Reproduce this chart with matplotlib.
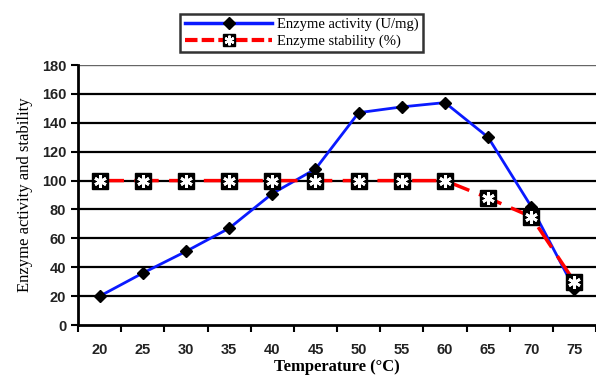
import numpy as np
import matplotlib.pyplot as plt
from matplotlib.lines import Line2D

temps = [20, 25, 30, 35, 40, 45, 50, 55, 60, 65, 70, 75]
activity = [20, 36, 51, 67, 91, 108, 147, 151, 154, 130, 82, 25]
stability = [100, 100, 100, 100, 100, 100, 100, 100, 100, 88, 75, 30]
yticks = [0, 20, 40, 60, 80, 100, 120, 140, 160, 180]

fig = plt.figure(figsize=(5.96, 3.78), dpi=100)
ax = fig.add_axes([0.131, 0.140, 0.869, 0.688])

x = np.arange(len(temps))

for y in yticks[1:]:
    ax.axhline(y, color='black', lw=1.6 if y < 180 else 1.0, zorder=1,
               alpha=1 if y < 180 else 0.6)

ax.plot(x, activity, color='#0a1aff', lw=2, marker='D', ms=6,
        mfc='black', mec='black', zorder=3)
ax.plot(x, stability, color='#ff0000', lw=2.5, dashes=(7, 3), zorder=4)
ax.plot(x, stability, ls='none', marker='s', ms=11, mfc='black',
        mec='black', zorder=5)
ax.plot(x, stability, ls='none', marker=(6, 2, 0), ms=9, mec='white',
        mew=2, zorder=6)

ax.set_xlim(-0.5, 11.27)
ax.set_ylim(0, 180)
ax.set_yticks(yticks)
ax.set_xticks(x)
ax.set_xticklabels([str(t) for t in temps])
ax.set_xticks(np.arange(-0.5, 11.6, 1), minor=True)
ax.tick_params(axis='x', which='major', length=0, pad=13)
ax.tick_params(axis='x', which='minor', length=5, width=1.5)
ax.tick_params(axis='y', length=5, width=1.5)
for lab in ax.get_xticklabels() + ax.get_yticklabels():
    lab.set_fontfamily('Liberation Sans')
    lab.set_fontweight('bold')
    lab.set_fontsize(10.5)
    lab.set_color('#222222')

for s in ['top', 'right']:
    ax.spines[s].set_visible(False)
ax.spines['left'].set_linewidth(2)
ax.spines['bottom'].set_linewidth(2)

ax.set_ylabel('Enzyme activity and stability', family='Liberation Serif',
              fontsize=12, labelpad=6)
ax.set_xlabel('Temperature (\u00b0C)', family='Liberation Serif',
              fontsize=12, fontweight='bold', labelpad=1)

h1 = Line2D([], [], color='#0a1aff', lw=2.5, marker='D', ms=6, mfc='black', mec='black')
h2 = (Line2D([], [], color='#ff0000', lw=3, dashes=(3, 1)),
      Line2D([], [], ls='none', marker='s', ms=9, mfc='black', mec='black'),
      Line2D([], [], ls='none', marker=(6, 2, 0), ms=7, mec='white', mew=1.6))
leg = fig.legend([h1, h2], ['Enzyme activity (U/mg)', 'Enzyme stability (%)'],
                 loc='center', bbox_to_anchor=(0.506, 0.913), frameon=True,
                 fancybox=False, edgecolor='black', handlelength=6,
                 prop={'family': 'Liberation Serif', 'size': 10.5},
                 borderpad=0.3, labelspacing=0.2, handletextpad=0.3)
leg.get_frame().set_linewidth(1.8)

fig.savefig('out.png', dpi=100)
